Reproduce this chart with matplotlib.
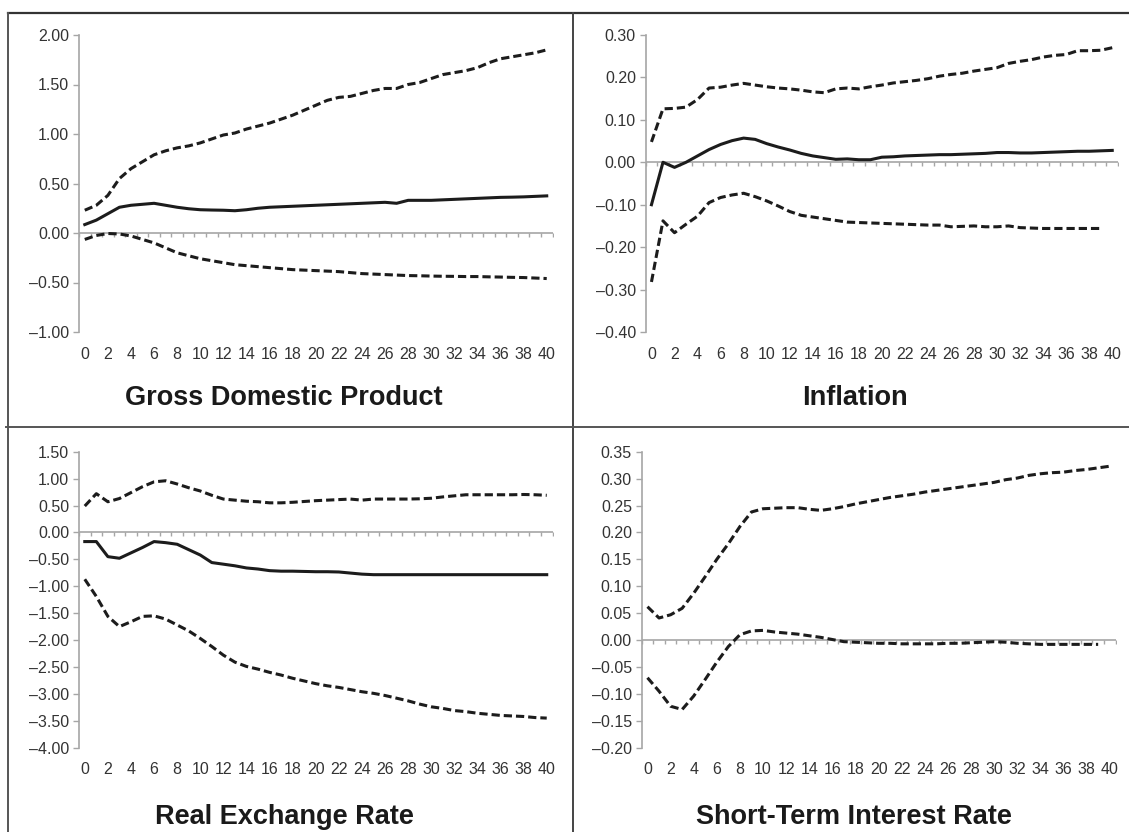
import numpy as np
import matplotlib
matplotlib.use("Agg")
import matplotlib.pyplot as plt
from matplotlib.lines import Line2D
from matplotlib.ticker import FuncFormatter

plt.rcParams['font.family'] = ['Liberation Sans', 'DejaVu Sans']

# horizons 0..40
horizon = list(range(41))

# Gross Domestic Product
gdp_mid = [0.085, 0.13, 0.195, 0.26, 0.28, 0.29, 0.30, 0.28, 0.26, 0.245, 0.235,
           0.232, 0.23, 0.225, 0.235, 0.25, 0.26, 0.265, 0.27, 0.275, 0.28,
           0.285, 0.29, 0.295, 0.30, 0.305, 0.31, 0.30, 0.33, 0.33, 0.33,
           0.335, 0.34, 0.345, 0.35, 0.355, 0.36, 0.362, 0.365, 0.37, 0.375]
gdp_up = [0.23, 0.28, 0.38, 0.55, 0.65, 0.72, 0.79, 0.83, 0.86, 0.88, 0.91,
          0.95, 0.99, 1.01, 1.05, 1.08, 1.11, 1.15, 1.19, 1.24, 1.29,
          1.34, 1.37, 1.38, 1.41, 1.44, 1.46, 1.46, 1.50, 1.52, 1.56,
          1.60, 1.62, 1.64, 1.67, 1.72, 1.76, 1.78, 1.80, 1.82, 1.85]
gdp_lo = [-0.065, -0.025, -0.005, -0.01, -0.03, -0.065, -0.10, -0.15, -0.20, -0.23, -0.26,
          -0.28, -0.30, -0.32, -0.33, -0.34, -0.35, -0.36, -0.37, -0.375, -0.38,
          -0.385, -0.39, -0.40, -0.41, -0.415, -0.42, -0.425, -0.43, -0.432, -0.435,
          -0.437, -0.438, -0.44, -0.44, -0.443, -0.445, -0.448, -0.45, -0.455, -0.46]

# Inflation
inf_mid = [-0.10, 0.0, -0.012, 0.0, 0.015, 0.03, 0.042, 0.051, 0.057, 0.054, 0.044,
           0.036, 0.029, 0.021, 0.015, 0.011, 0.007, 0.008, 0.006, 0.006, 0.012,
           0.013, 0.015, 0.016, 0.017, 0.018, 0.018, 0.019, 0.02, 0.021, 0.023,
           0.023, 0.022, 0.022, 0.023, 0.024, 0.025, 0.026, 0.026, 0.027, 0.028]
inf_up = [0.048, 0.126, 0.127, 0.13, 0.148, 0.175, 0.177, 0.182, 0.186, 0.182, 0.178,
          0.175, 0.173, 0.170, 0.166, 0.164, 0.173, 0.175, 0.173, 0.178, 0.182,
          0.187, 0.19, 0.193, 0.197, 0.203, 0.207, 0.21, 0.215, 0.219, 0.223,
          0.233, 0.238, 0.242, 0.248, 0.252, 0.254, 0.263, 0.263, 0.264, 0.27]
inf_lo = [-0.282, -0.138, -0.166, -0.146, -0.127, -0.095, -0.083, -0.077, -0.073, -0.081, -0.091,
          -0.103, -0.116, -0.125, -0.129, -0.133, -0.137, -0.141, -0.142, -0.143, -0.144,
          -0.145, -0.146, -0.147, -0.148, -0.148, -0.152, -0.151, -0.150, -0.152, -0.152,
          -0.150, -0.154, -0.155, -0.156, -0.156, -0.156, -0.156, -0.156, -0.156]

# Real Exchange Rate
rer_mid = [-0.17, -0.17, -0.45, -0.48, -0.38, -0.28, -0.17, -0.19, -0.22, -0.32, -0.42,
           -0.56, -0.59, -0.62, -0.66, -0.68, -0.71, -0.72, -0.72, -0.725, -0.73,
           -0.73, -0.735, -0.755, -0.775, -0.785, -0.785, -0.785, -0.785, -0.785, -0.785,
           -0.785, -0.785, -0.785, -0.785, -0.785, -0.785, -0.785, -0.785, -0.785, -0.785]
rer_up = [0.49, 0.72, 0.57, 0.63, 0.74, 0.85, 0.94, 0.96, 0.90, 0.83, 0.77,
          0.69, 0.62, 0.60, 0.58, 0.57, 0.55, 0.55, 0.56, 0.575, 0.59,
          0.60, 0.61, 0.62, 0.60, 0.62, 0.62, 0.62, 0.62, 0.625, 0.635,
          0.66, 0.68, 0.70, 0.70, 0.70, 0.70, 0.70, 0.705, 0.70, 0.69]
rer_lo = [-0.87, -1.19, -1.56, -1.75, -1.66, -1.56, -1.55, -1.61, -1.72, -1.83, -1.97,
          -2.12, -2.28, -2.41, -2.49, -2.54, -2.60, -2.65, -2.71, -2.76, -2.81,
          -2.85, -2.88, -2.92, -2.96, -2.99, -3.03, -3.08, -3.13, -3.19, -3.24,
          -3.27, -3.31, -3.33, -3.36, -3.38, -3.40, -3.41, -3.42, -3.44, -3.45]

# Short-Term Interest Rate
str_up = [0.062, 0.041, 0.047, 0.059, 0.087, 0.118, 0.15, 0.179, 0.211, 0.238, 0.244,
          0.245, 0.246, 0.246, 0.243, 0.241, 0.244, 0.248, 0.253, 0.257, 0.261,
          0.265, 0.268, 0.271, 0.275, 0.278, 0.281, 0.284, 0.287, 0.29, 0.293,
          0.298, 0.301, 0.306, 0.309, 0.311, 0.312, 0.315, 0.317, 0.32, 0.323]
str_lo = [-0.07, -0.095, -0.123, -0.129, -0.104, -0.073, -0.041, -0.012, 0.01, 0.017, 0.018,
          0.015, 0.013, 0.011, 0.008, 0.005, 0.001, -0.003, -0.004, -0.005, -0.006,
          -0.006, -0.007, -0.007, -0.007, -0.007, -0.006, -0.006, -0.005, -0.004, -0.003,
          -0.004, -0.006, -0.007, -0.008, -0.008, -0.008, -0.008, -0.008, -0.008]

titles = ["Gross Domestic Product", "Inflation", "Real Exchange Rate",
          "Short-Term Interest Rate"]

W, H = 1129, 832
fig = plt.figure(figsize=(W / 100, H / 100), dpi=100)

AXIS_GRAY = "#a6a6a6"
LINE = "#1c1c1c"


def px_axes(left, right, top, bottom):
    return fig.add_axes([left / W, 1 - bottom / H, (right - left) / W, (bottom - top) / H])


def style_panel(ax, ymin, ymax, step, label_y):
    ax.set_xlim(-0.5, 40.5)
    ax.set_ylim(ymin, ymax)
    for s in ["top", "right", "bottom"]:
        ax.spines[s].set_visible(False)
    ax.spines["left"].set_color(AXIS_GRAY)
    ax.spines["left"].set_linewidth(1.2)
    ax.set_yticks(np.round(np.arange(ymin, ymax + step / 2, step), 4))
    ax.yaxis.set_major_formatter(FuncFormatter(
        lambda v, p: f"{v:.2f}".replace("-", "\u2013") if abs(v) > 1e-9 else "0.00"))
    ax.tick_params(axis="y", length=4, width=1, color=AXIS_GRAY, labelsize=11.5,
                   labelcolor="#333333", pad=3)
    ax.set_xticks([])
    # zero line with category ticks hanging down
    ax.axhline(0, color=AXIS_GRAY, lw=1.2, zorder=1)
    bounds = np.arange(-0.5, 41, 1.0)
    ax.plot(bounds, np.zeros_like(bounds), linestyle="none", marker=3,
            markersize=3.2, markeredgewidth=1, color=AXIS_GRAY, zorder=1)
    # category labels under the plot
    for h in horizon[::2]:
        ax.text(h, label_y, str(h), transform=ax.get_xaxis_transform(),
                ha="center", va="center", fontsize=11.5, color="#333333")


dash = (0, (2.7, 1.3))
lw = 2.2

ax1 = px_axes(79, 552.5, 35, 332)
style_panel(ax1, -1.0, 2.0, 0.5, -0.077)
ax1.plot(horizon, gdp_up, color=LINE, lw=lw, linestyle=dash)
ax1.plot(horizon, gdp_lo, color=LINE, lw=lw, linestyle=dash)
ax1.plot(horizon, gdp_mid, color=LINE, lw=lw)

ax2 = px_axes(645.7, 1118, 35, 332)
style_panel(ax2, -0.4, 0.3, 0.1, -0.077)
ax2.plot(horizon, inf_up, color=LINE, lw=lw, linestyle=dash)
ax2.plot(horizon[:len(inf_lo)], inf_lo, color=LINE, lw=lw, linestyle=dash)
ax2.plot(horizon, inf_mid, color=LINE, lw=lw)

ax3 = px_axes(79, 552.5, 451.7, 747.7)
style_panel(ax3, -4.0, 1.5, 0.5, -0.075)
ax3.plot(horizon, rer_up, color=LINE, lw=lw, linestyle=dash)
ax3.plot(horizon, rer_lo, color=LINE, lw=lw, linestyle=dash)
ax3.plot(horizon, rer_mid, color=LINE, lw=lw)

ax4 = px_axes(641.7, 1115.5, 451.7, 747.7)
style_panel(ax4, -0.2, 0.35, 0.05, -0.075)
ax4.plot(horizon, str_up, color=LINE, lw=lw, linestyle=dash)
ax4.plot(horizon[:len(str_lo)], str_lo, color=LINE, lw=lw, linestyle=dash)

# panel titles
title_pos = [(284, 405), (855, 405), (284, 824), (854, 824)]
for t, (tx, ty) in zip(titles, title_pos):
    fig.text(tx / W, 1 - ty / H, t, ha="center", va="baseline",
             fontsize=19.5, fontweight="bold", color="#1a1a1a")

# frame lines between the panels
def fline(x0, y0, x1, y1, color="#333333", width=1.4):
    fig.add_artist(Line2D([x0 / W, x1 / W], [1 - y0 / H, 1 - y1 / H],
                          color=color, lw=width, transform=fig.transFigure))

fline(7.5, 13.3, W, 13.3, width=1.6)
fline(7.5, 13.3, 7.5, H, color="#555555")
fline(573.3, 13.3, 573.3, H, color="#444444")
fline(6, 426.5, W, 426.5, color="#555555")

fig.savefig("out.png", dpi=100, facecolor="white")
